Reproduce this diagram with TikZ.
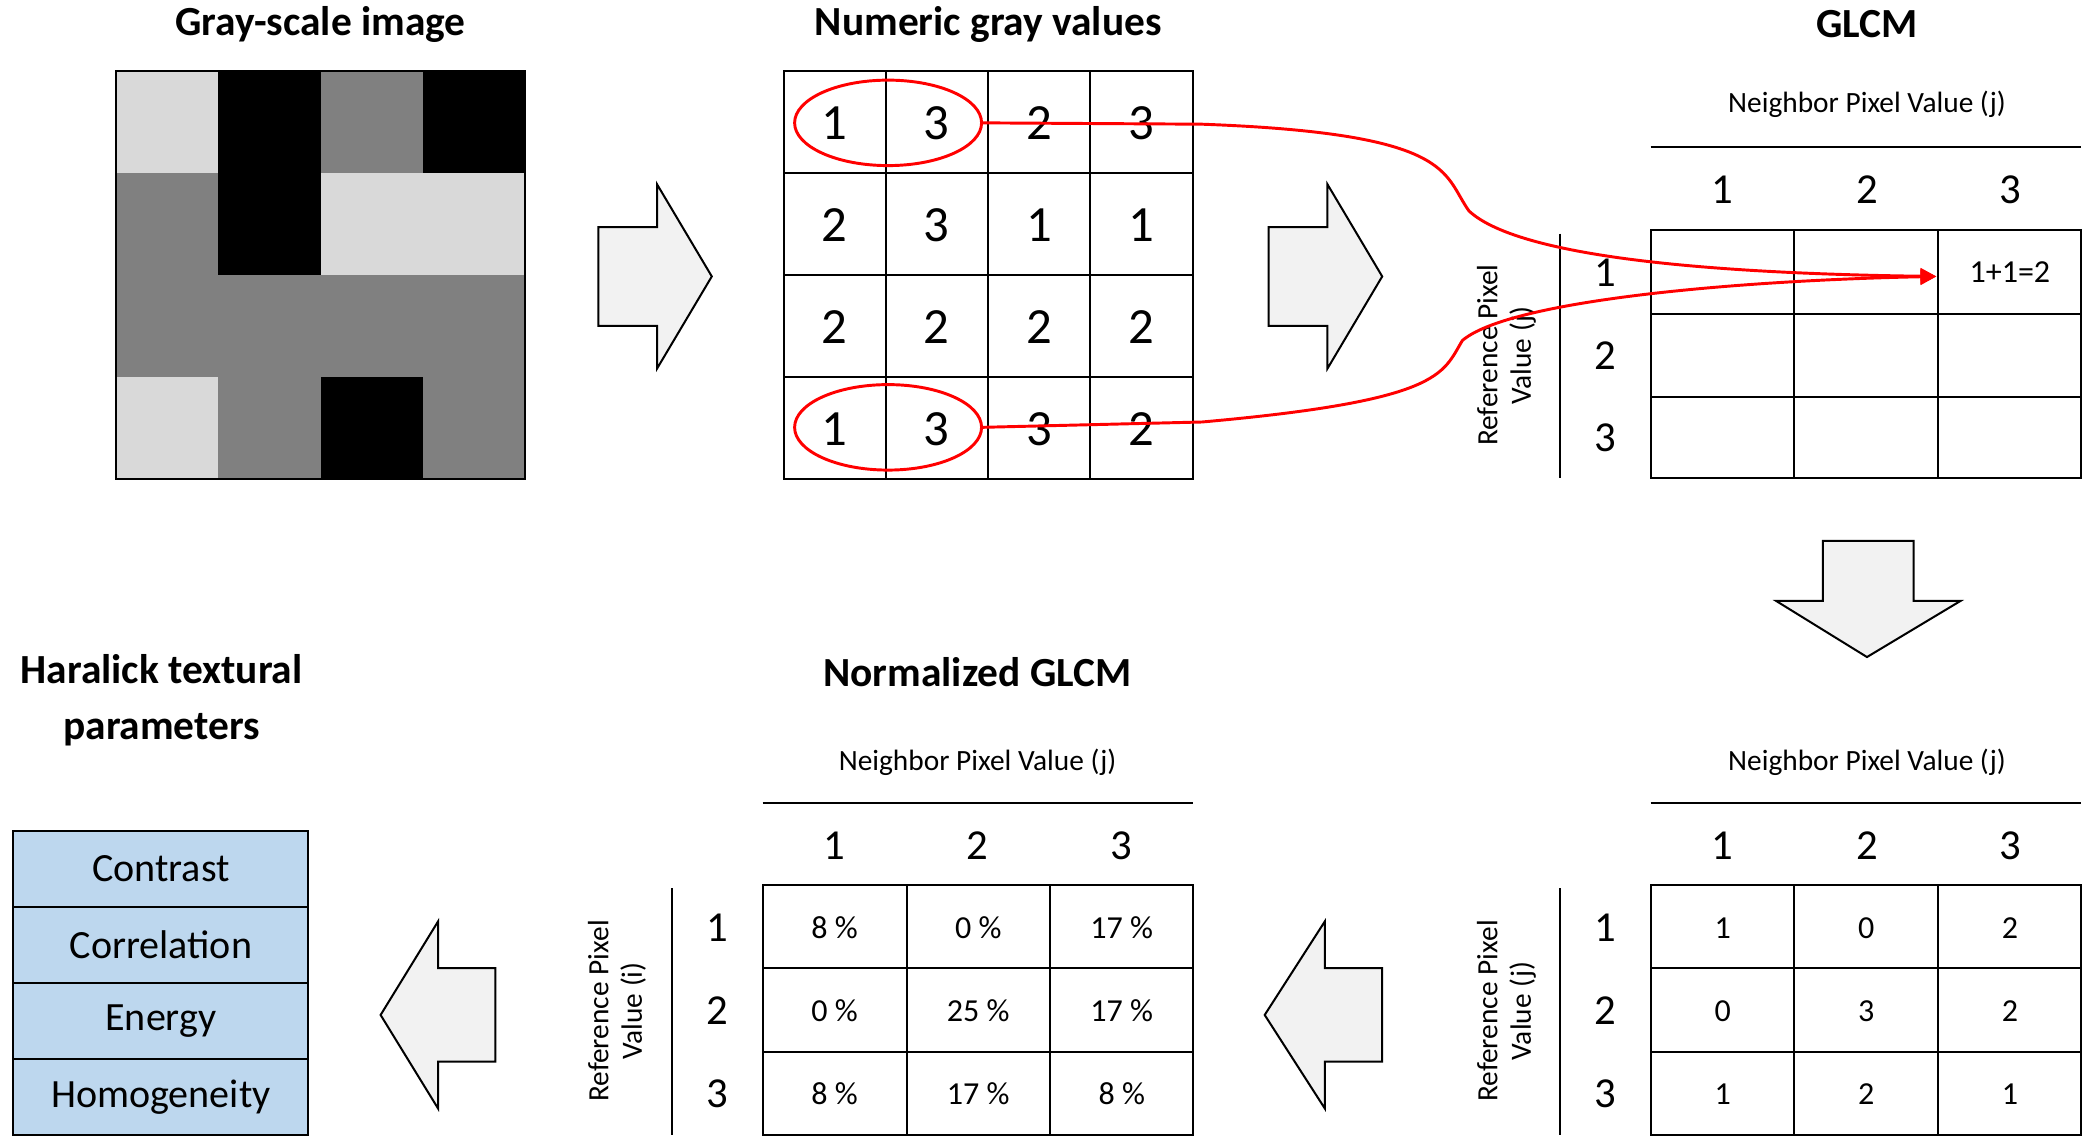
\documentclass[tikz,border=0pt]{standalone}
\usepackage{fontspec}
\setmainfont{Carlito}
\usetikzlibrary{arrows.meta}
\definecolor{arr}{RGB}{242,242,242}
\definecolor{bx}{RGB}{189,215,238}
\definecolor{lg}{RGB}{217,217,217}
\definecolor{md}{RGB}{128,128,128}
\begin{document}
\begin{tikzpicture}[x=1pt,y=-1pt,
 title/.style={font=\fontsize{31}{42}\selectfont\bfseries,align=center},
 nb/.style={font=\fontsize{22}{25}\selectfont},
 big/.style={font=\fontsize{38}{40}\selectfont},
 idx/.style={font=\fontsize{32}{34}\selectfont},
 val/.style={font=\fontsize{24}{26}\selectfont},
 blk/.style={draw=black,line width=1.5pt,fill=arr,line join=miter},
 gl/.style={draw=black,line width=1.5pt},
 red/.style={draw=red,line width=2.2pt}]
\useasboundingbox (0,0) rectangle (1568,858);
% titles
\node[title] (t1) at (240,18) {Gray-scale image};
\node[title] (t2) at (740,18) {Numeric gray values};
\node[title] (t3) at (1398,18) {GLCM};
\node[title] (t4) at (732,503) {Normalized GLCM};
\node[title] (t5) at (121,524) {Haralick textural\\parameters};
% gray image
\def\cs{76.5}
\foreach \c [count=\i from 0] in {lg,black,md,black}{\fill[\c] (87+\i*\cs,53) rectangle ++(\cs,\cs);}
\foreach \c [count=\i from 0] in {md,black,lg,lg}{\fill[\c] (87+\i*\cs,53+\cs) rectangle ++(\cs,\cs);}
\foreach \c [count=\i from 0] in {md,md,md,md}{\fill[\c] (87+\i*\cs,53+2*\cs) rectangle ++(\cs,\cs);}
\foreach \c [count=\i from 0] in {lg,md,black,md}{\fill[\c] (87+\i*\cs,53+3*\cs) rectangle ++(\cs,\cs);}
\draw[line width=1.5pt] (87,53) rectangle (393,359);
% numeric grid
\draw[gl] (587,53) rectangle (893,359);
\foreach \k in {1,2,3}{
  \draw[gl] (587+\k*76.5,53) -- (587+\k*76.5,359);
  \draw[gl] (587,53+\k*76.5) -- (893,53+\k*76.5);
}
\foreach \row [count=\r from 0] in {{1,3,2,3},{2,3,1,1},{2,2,2,2},{1,3,3,2}}{
  \foreach \v [count=\c from 0] in \row {
    \node[big] (n\r\c) at (625+\c*76.5,92+\r*76.5) {\v};
  }
}
\draw[red] (665,92) ellipse[x radius=70,y radius=32];
\draw[red] (665,320) ellipse[x radius=70,y radius=32];
\coordinate (e1) at (735,92);
\coordinate (e2) at (735,320);
% block arrows
\draw[blk] (448,170) -- (492,170) -- (492,138) -- (533,207) -- (492,276) -- (492,244) -- (448,244) -- cycle;
\draw[blk] (950,170) -- (994,170) -- (994,138) -- (1035,207) -- (994,276) -- (994,244) -- (950,244) -- cycle;
\draw[blk] (1365,405) -- (1433,405) -- (1433,450) -- (1468,450) -- (1398,492) -- (1330,450) -- (1365,450) -- cycle;
\draw[blk] (1035,725) -- (992,725) -- (992,690) -- (947,760) -- (992,830) -- (992,795) -- (1035,795) -- cycle;
\draw[blk] (371,725) -- (328,725) -- (328,690) -- (285,760) -- (328,830) -- (328,795) -- (371,795) -- cycle;
% GLCM table
\node[nb] (g-nb) at (1398,78) {Neighbor Pixel Value (j)};
\draw[gl] (1236,110) -- (1558,110);
\foreach \x [count=\i] in {1290,1398,1505}{\node[idx] (g-c\i) at (\x,142) {\i};}
\draw[gl] (1236,172) rectangle (1558,358);
\foreach \x in {1343,1451}{\draw[gl] (\x,172) -- (\x,358);}
\foreach \y in {235,297}{\draw[gl] (1236,\y) -- (1558,\y);}
\foreach \y [count=\i] in {204,266,328}{\node[idx] (g-r\i) at (1202,\y) {\i};}
\draw[gl] (1168,175) -- (1168,358);
\node[nb,rotate=90,align=center] (g-ref) at (1128,266) {Reference Pixel\\Value (j)};
\node[val] (g13) at (1505,204) {1+1=2};
\coordinate (tgt) at (1450,207);
\draw[red,-{Triangle[length=12pt,width=12pt]}] (e1) -- (900,93) .. controls (1090,100) and (1080,130) .. (1100,158) .. controls (1140,195) and (1300,205) .. (tgt);
\draw[red,-{Triangle[length=12pt,width=12pt]}] (e2) -- (900,316) .. controls (1080,300) and (1080,280) .. (1095,255) .. controls (1130,225) and (1300,210) .. (tgt);
% bottom right table
\node[nb] (b-nb) at (1398,571) {Neighbor Pixel Value (j)};
\draw[gl] (1236,601) -- (1558,601);
\foreach \x [count=\i] in {1290,1398,1505}{\node[idx] (b-c\i) at (\x,633) {\i};}
\draw[gl] (1236,663) rectangle (1558,850);
\foreach \x in {1343,1451}{\draw[gl] (\x,663) -- (\x,850);}
\foreach \y in {725,788}{\draw[gl] (1236,\y) -- (1558,\y);}
\foreach \y [count=\i] in {695,757,819}{\node[idx] (b-r\i) at (1202,\y) {\i};}
\draw[gl] (1168,665) -- (1168,850);
\node[nb,rotate=90,align=center] (b-ref) at (1128,757) {Reference Pixel\\Value (j)};
\foreach \row [count=\r from 0] in {{1,0,2},{0,3,2},{1,2,1}}{
  \foreach \v [count=\c from 0] in \row {
    \node[val] (bv\r\c) at (1290+\c*107.5,695+\r*62) {\v};
  }
}
% normalized table
\node[nb] (n-nb) at (732,571) {Neighbor Pixel Value (j)};
\draw[gl] (571,601) -- (893,601);
\foreach \x [count=\i] in {625,732,840}{\node[idx] (n-c\i) at (\x,633) {\i};}
\draw[gl] (571,663) rectangle (893,850);
\foreach \x in {679,786}{\draw[gl] (\x,663) -- (\x,850);}
\foreach \y in {725,788}{\draw[gl] (571,\y) -- (893,\y);}
\foreach \y [count=\i] in {695,757,819}{\node[idx] (n-r\i) at (537,\y) {\i};}
\draw[gl] (503,665) -- (503,850);
\node[nb,rotate=90,align=center] (n-ref) at (462,757) {Reference Pixel\\Value (i)};
\foreach \row [count=\r from 0] in {{8 \%,0 \%,17 \%},{0 \%,25 \%,17 \%},{8 \%,17 \%,8 \%}}{
  \foreach \v [count=\c from 0] in \row {
    \node[val] (nv\r\c) at (625+\c*107.5,695+\r*62) {\v};
  }
}
% Haralick boxes
\foreach \t [count=\i from 0] in {Contrast,Correlation,Energy,Homogeneity}{
  \node[draw=black,line width=1.5pt,fill=bx,minimum width=221pt,minimum height=57pt,inner sep=0pt,
    font=\fontsize{30}{32}\selectfont] (h\i) at (120.5,650.5+\i*57) {\t};
}
\end{tikzpicture}
\end{document}
